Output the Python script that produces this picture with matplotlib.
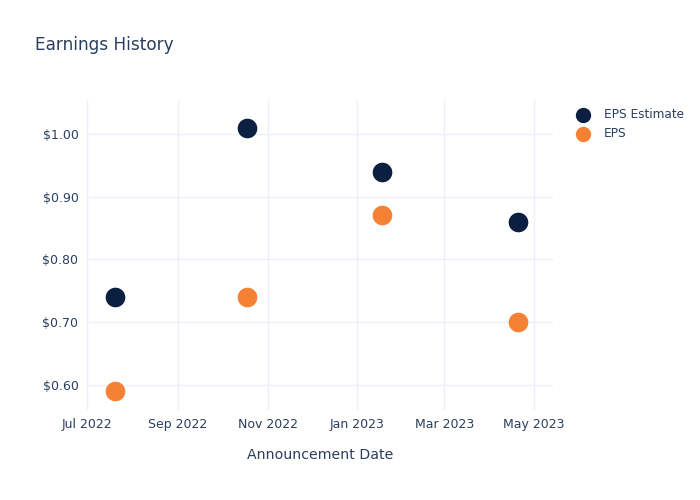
import matplotlib
matplotlib.use("Agg")
import matplotlib.pyplot as plt
import matplotlib.dates as mdates
import numpy as np
import pandas as pd

# earnings data
dates = pd.to_datetime(["2022-07-20", "2022-10-18", "2023-01-18", "2023-04-20"])
eps_estimate = [0.74, 1.01, 0.94, 0.86]
eps_actual = [0.59, 0.74, 0.87, 0.70]

navy = "#0b1f41"
orange = "#f58134"
txt = "#2a3f5f"
grid = "#ebf0f8"

fig = plt.figure(figsize=(7, 5), dpi=100)
ax = fig.add_axes([0.124, 0.18, 0.666, 0.62])

ax.scatter(dates, eps_estimate, s=200, color=navy, zorder=3, label="EPS Estimate", linewidths=0)
ax.scatter(dates, eps_actual, s=200, color=orange, zorder=3, label="EPS", linewidths=0)

ax.set_xlim(pd.Timestamp("2022-07-01"), pd.Timestamp("2023-05-14"))
ax.set_ylim(0.560, 1.054)
ax.set_yticks([0.6, 0.7, 0.8, 0.9, 1.0])
ax.yaxis.set_major_formatter(plt.FuncFormatter(lambda v, p: f"${v:.2f}"))
ax.xaxis.set_major_locator(mdates.MonthLocator(bymonth=[1, 3, 5, 7, 9, 11]))
ax.xaxis.set_major_formatter(mdates.DateFormatter("%b %Y"))

ax.grid(True, color=grid, linewidth=1)
ax.set_axisbelow(True)
for s in ax.spines.values():
    s.set_visible(False)
ax.tick_params(length=0, labelsize=9, colors=txt, pad=6)

ax.set_xlabel("Announcement Date", fontsize=10.2, color=txt, labelpad=12)
fig.text(0.05, 0.911, "Earnings History", fontsize=12.2, color=txt, va="center")

leg = ax.legend(loc="upper left", bbox_to_anchor=(1.027, 0.99), frameon=False,
                fontsize=8.7, labelcolor=txt, handletextpad=0.75, borderaxespad=0,
                labelspacing=0.5, markerscale=0.78)

fig.savefig("out.png", dpi=100)
